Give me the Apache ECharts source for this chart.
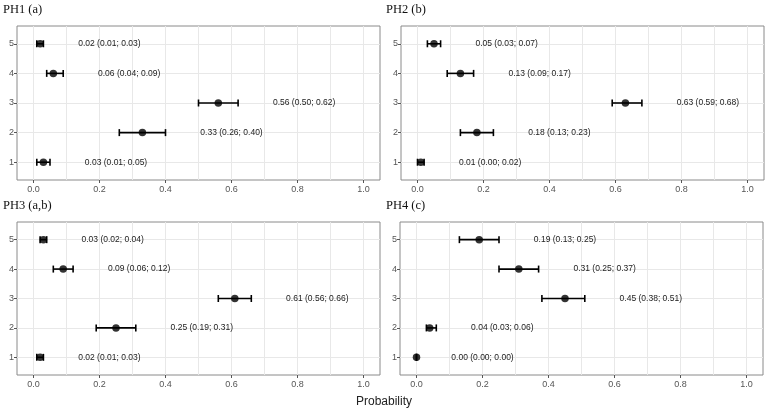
<!DOCTYPE html>
<html>
<head>
<meta charset="utf-8">
<script src="https://cdn.jsdelivr.net/npm/echarts@6/dist/echarts.min.js"></script>
<style>
html,body{margin:0;padding:0;background:#fff;}
#c{width:767px;height:414px;}
</style>
</head>
<body>
<div id="c"></div>
<script>
// Categories (response levels, bottom to top)
const categories = [1, 2, 3, 4, 5];
const xTickLabels = [0, 0.2, 0.4, 0.6, 0.8, 1.0];
const panelTitles = ['PH1 (a)', 'PH2 (b)', 'PH3 (a,b)', 'PH4 (c)'];
const axisTitle = 'Probability';

// Estimated probabilities with lower / upper bounds, per category 1..5
const ph1Mean = [0.03, 0.33, 0.56, 0.06, 0.02];
const ph1Low  = [0.01, 0.26, 0.50, 0.04, 0.01];
const ph1High = [0.05, 0.40, 0.62, 0.09, 0.03];

const ph2Mean = [0.01, 0.18, 0.63, 0.13, 0.05];
const ph2Low  = [0.00, 0.13, 0.59, 0.09, 0.03];
const ph2High = [0.02, 0.23, 0.68, 0.17, 0.07];

const ph3Mean = [0.02, 0.25, 0.61, 0.09, 0.03];
const ph3Low  = [0.01, 0.19, 0.56, 0.06, 0.02];
const ph3High = [0.03, 0.31, 0.66, 0.12, 0.04];

const ph4Mean = [0.00, 0.04, 0.45, 0.31, 0.19];
const ph4Low  = [0.00, 0.03, 0.38, 0.25, 0.13];
const ph4High = [0.00, 0.06, 0.51, 0.37, 0.25];

const panels = [
  {mean: ph1Mean, low: ph1Low, high: ph1High},
  {mean: ph2Mean, low: ph2Low, high: ph2High},
  {mean: ph3Mean, low: ph3Low, high: ph3High},
  {mean: ph4Mean, low: ph4Low, high: ph4High}
];

const gridBoxes = [
  {left: 17, top: 26, width: 363, height: 154},
  {left: 401, top: 26, width: 363, height: 154},
  {left: 17, top: 222, width: 363, height: 153},
  {left: 400, top: 222, width: 363, height: 153}
];
const titlePos = [
  {left: 3, top: 3},
  {left: 386, top: 3},
  {left: 3, top: 199},
  {left: 386, top: 199}
];

const minorVals = [0, 0.1, 0.2, 0.3, 0.4, 0.5, 0.6, 0.7, 0.8, 0.9, 1.0];
const LABEL_OFFSET = 0.2;
const fmt = v => v.toFixed(2);

const grids = [], xAxes = [], yAxes = [], series = [], titles = [];

panels.forEach((p, i) => {
  grids.push(Object.assign({show: true, borderColor: '#8a8a8a', borderWidth: 1, backgroundColor: '#fff', containLabel: false}, gridBoxes[i]));
  titles.push({
    text: panelTitles[i], left: titlePos[i].left, top: titlePos[i].top, padding: 0,
    textStyle: {fontFamily: 'Liberation Serif', fontSize: 12.5, fontWeight: 'normal', color: '#111'}
  });
  // gridline axis (major + minor)
  xAxes.push({
    type: 'value', gridIndex: i, min: -0.05, max: 1.05, position: 'top',
    axisLine: {show: false, onZero: false}, axisLabel: {show: false},
    axisTick: {show: false, customValues: minorVals},
    splitLine: {show: true, lineStyle: {color: '#e8e8e8', width: 1}}
  });
  // labelled axis
  xAxes.push({
    type: 'value', gridIndex: i, min: -0.05, max: 1.05, position: 'bottom',
    axisLine: {show: false, onZero: false},
    axisTick: {show: true, length: 3, customValues: xTickLabels, lineStyle: {color: '#555'}},
    axisLabel: {show: true, customValues: xTickLabels, margin: 5, fontFamily: 'Liberation Sans', fontSize: 9, color: '#555',
      formatter: v => v.toFixed(1)},
    splitLine: {show: false}
  });
  yAxes.push({
    type: 'value', gridIndex: i, min: 0.4, max: 5.6, position: 'left',
    axisLine: {show: false, onZero: false},
    axisTick: {show: true, length: 3, customValues: categories, lineStyle: {color: '#555'}},
    axisLabel: {show: true, customValues: categories, margin: 3, fontFamily: 'Liberation Sans', fontSize: 9, color: '#555',
      formatter: v => String(v)},
    splitLine: {show: true, lineStyle: {color: '#e8e8e8', width: 1}}
  });

  const ebData = categories.map((c, k) => [c, p.low[k], p.high[k], p.mean[k]]);
  series.push({
    type: 'custom', xAxisIndex: 2 * i + 1, yAxisIndex: i,
    data: ebData,
    encode: {x: [1, 2], y: 0},
    clip: false,
    renderItem: function (params, api) {
      const y = api.value(0), lo = api.value(1), hi = api.value(2), m = api.value(3);
      const a = api.coord([lo, y]);
      const b = api.coord([hi, y]);
      const t = api.coord([hi + LABEL_OFFSET, y]);
      const h = 3.5;
      const st = {stroke: '#000', lineWidth: 1.6};
      return {
        type: 'group',
        children: [
          {type: 'line', shape: {x1: a[0], y1: a[1], x2: b[0], y2: b[1]}, style: st},
          {type: 'line', shape: {x1: a[0], y1: a[1] - h, x2: a[0], y2: a[1] + h}, style: st},
          {type: 'line', shape: {x1: b[0], y1: b[1] - h, x2: b[0], y2: b[1] + h}, style: st},
          {type: 'text', x: t[0], y: t[1], style: {
            text: fmt(m) + ' (' + fmt(lo) + '; ' + fmt(hi) + ')',
            align: 'center', verticalAlign: 'middle',
            fontFamily: 'Liberation Sans', fontSize: 8.5, fill: '#222'
          }}
        ]
      };
    },
    z: 3
  });
  series.push({
    type: 'scatter', xAxisIndex: 2 * i + 1, yAxisIndex: i,
    data: categories.map((c, k) => [p.mean[k], c]),
    symbol: 'circle', symbolSize: 7.5,
    itemStyle: {color: '#000'},
    silent: true, z: 4
  });
});

const chart = echarts.init(document.getElementById('c'), null, {renderer: 'canvas'});
chart.setOption({
  animation: false,
  backgroundColor: '#fff',
  title: titles,
  grid: grids,
  xAxis: xAxes,
  yAxis: yAxes,
  series: series,
  graphic: [{
    type: 'text', left: 356, top: 396,
    style: {text: axisTitle, fontFamily: 'Liberation Sans', fontSize: 12, fill: '#222'}
  }]
});
</script>
</body>
</html>
